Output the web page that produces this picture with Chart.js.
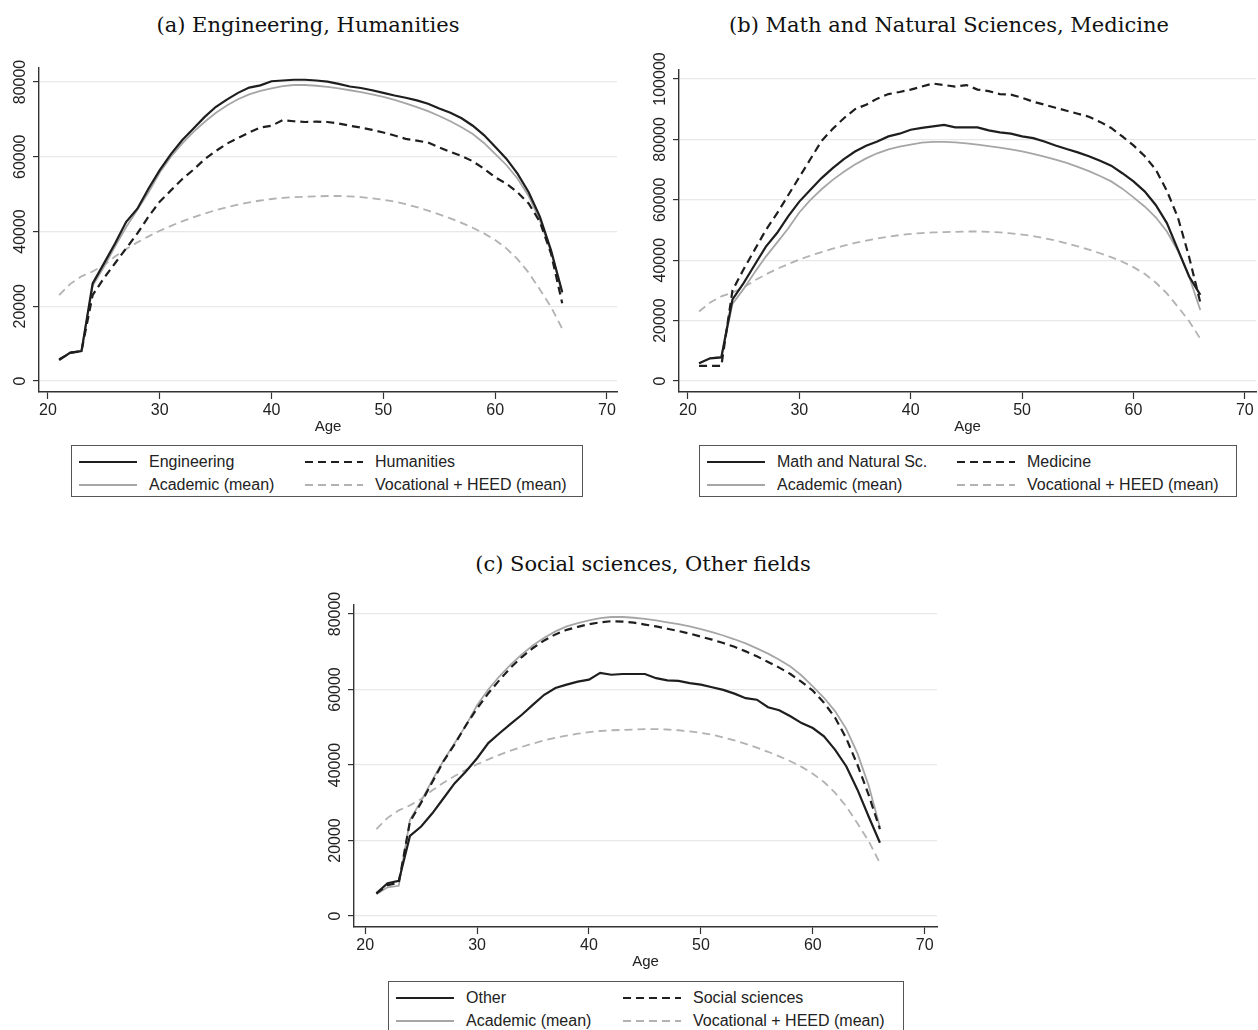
<!DOCTYPE html>
<html>
<head>
<meta charset="utf-8">
<title>Earnings profiles by field</title>
<script src="https://cdn.jsdelivr.net/npm/chart.js@4.4.1/dist/chart.umd.min.js"></script>
<style>
body { margin: 0; background: #fff; }
#page { position: relative; width: 1258px; height: 1030px; overflow: hidden; }
.panel { position: absolute; }
.ptitle { position: absolute; text-align: center; font-family: "DejaVu Serif", serif; font-size: 21px; line-height: 24px; color: #111; white-space: nowrap; }
.legend { position: absolute; border: 1px solid #555; box-sizing: border-box; font-family: "Liberation Sans", Arial, sans-serif; font-size: 16px; color: #222; }
.legend .item { position: absolute; display: flex; align-items: center; height: 20px; white-space: nowrap; }
.legend svg { margin-right: 12px; }
</style>
</head>
<body>
<div id="page">
  <div class="ptitle" style="left:0;top:13px;width:616px">(a) Engineering, Humanities</div>
  <div class="ptitle" style="left:640px;top:13px;width:618px">(b) Math and Natural Sciences, Medicine</div>
  <div class="ptitle" style="left:300px;top:552px;width:686px">(c) Social sciences, Other fields</div>

  <div class="panel" style="left:0;top:40px;width:620px;height:400px"><canvas id="chartA"></canvas></div>
  <div class="panel" style="left:640px;top:40px;width:618px;height:400px"><canvas id="chartB"></canvas></div>
  <div class="panel" style="left:300px;top:560px;width:650px;height:415px"><canvas id="chartC"></canvas></div>

  <div class="legend" id="legendA" style="left:71px;top:445px;width:512px;height:52px"></div>
  <div class="legend" id="legendB" style="left:699px;top:445px;width:538px;height:52px"></div>
  <div class="legend" id="legendC" style="left:388px;top:981px;width:516px;height:60px"></div>
</div>

<script>
// ages on the x axis
const ages = [21,22,23,24,25,26,27,28,29,30,31,32,33,34,35,36,37,38,39,40,
  41,42,43,44,45,46,47,48,49,50,51,52,53,54,55,56,57,58,59,60,61,62,63,64,65,66];

const engineering = [5600,7600,8000,26100,31400,36800,42600,46100,51500,56400,
  60700,64400,67500,70600,73300,75300,77100,78500,79100,80200,
  80400,80600,80600,80400,80100,79500,78800,78400,77800,77100,
  76400,75800,75100,74200,72900,71800,70300,68300,65800,62700,
  59500,55500,50500,44000,35000,23800];

const humanities = [5800,7500,8000,23000,27500,31500,35500,39500,44000,48000,
  51000,54000,56500,59300,61500,63500,65000,66500,67800,68300,
  69800,69500,69300,69400,69300,68900,68300,67800,67200,66500,
  65700,64800,64300,63800,62500,61300,60200,58800,56800,54500,
  52800,50500,47500,42600,34100,20800];

const mathNat = [5900,7500,7800,27000,32400,38500,44500,49000,54500,59400,
  63300,67200,70500,73500,76000,77900,79300,81000,81900,83200,
  83800,84300,84800,84000,84000,84000,83000,82300,81900,81000,
  80400,79300,78000,76800,75700,74400,72900,71300,68800,66100,
  62800,58300,52300,43400,34600,28500];

const medicine = [5000,5000,5000,30000,37000,43500,50000,55500,61500,67500,
  73500,79500,83500,87000,90000,91500,93500,95000,95700,96500,
  97500,98500,98000,97500,98000,96500,96000,95000,94800,93800,
  92500,91500,90500,89500,88500,87500,85800,83800,81000,78000,
  74500,70000,63000,54000,41000,26000];

const other = [6000,8700,9300,21200,23700,27200,31200,35200,38300,41800,
  45800,48400,50900,53300,56000,58600,60400,61300,62100,62600,
  64400,63900,64100,64100,64100,63000,62400,62300,61700,61300,
  60600,59900,58900,57700,57300,55300,54500,52900,51100,49800,
  47600,44000,39600,33400,26300,19400];

const social = [6000,8200,8800,25000,30000,35500,41000,45500,50500,55000,
  59000,62500,65800,68600,71000,73000,74600,75800,76600,77300,
  77800,78100,78000,77700,77200,76700,76100,75500,74800,74000,
  73200,72300,71300,70100,68800,67300,65800,64100,62000,59700,
  56500,52500,47000,40000,32000,23000];

const academic = [5800,7600,8000,25500,30500,36000,41200,45800,50500,55800,
  60000,63500,66600,69300,71700,73700,75400,76700,77600,78300,
  78900,79200,79200,79000,78700,78300,77800,77300,76700,76000,
  75200,74300,73300,72200,70900,69500,67900,66100,63700,60800,
  57800,54200,49500,43000,34500,23500];

const vocational = [23000,26000,28000,29300,31000,33300,35300,37100,38700,40200,
  41500,42700,43800,44800,45700,46500,47200,47800,48300,48700,
  49000,49200,49300,49400,49500,49500,49400,49200,48900,48500,
  48000,47300,46500,45600,44600,43500,42300,41000,39500,37700,
  35500,32600,29000,24500,19800,14000];

const xTicks = [20, 30, 40, 50, 60, 70];
const yTicks80 = [0, 20000, 40000, 60000, 80000];
const yTicks100 = [0, 20000, 40000, 60000, 80000, 100000];

const styles = {
  solid:  { borderColor: '#1e1e1e', borderWidth: 2.2, borderDash: [] },
  dashed: { borderColor: '#1e1e1e', borderWidth: 2.2, borderDash: [8, 5] },
  acad:   { borderColor: '#a6a6a6', borderWidth: 1.8, borderDash: [] },
  voc:    { borderColor: '#b2b2b2', borderWidth: 1.8, borderDash: [8, 5] }
};

const sansFont = '"Liberation Sans", Arial, sans-serif';

// rotated y tick labels, Stata style
const rotatedYLabels = {
  id: 'rotatedYLabels',
  afterDraw(chart) {
    const s = chart.scales.y;
    const ctx = chart.ctx;
    ctx.save();
    ctx.font = '16px ' + sansFont;
    ctx.fillStyle = '#222';
    ctx.textAlign = 'center';
    ctx.textBaseline = 'middle';
    s.ticks.forEach(t => {
      ctx.save();
      ctx.translate(s.right - 18, s.getPixelForValue(t.value));
      ctx.rotate(-Math.PI / 2);
      ctx.fillText(t.label, 0, 0);
      ctx.restore();
    });
    ctx.restore();
  }
};

function series(label, values, style) {
  return Object.assign({
    label: label,
    data: ages.map((a, i) => ({ x: a, y: values[i] })),
    pointRadius: 0,
    fill: false,
    tension: 0
  }, style);
}

function makeChart(id, datasets, yTicks, opt) {
  return new Chart(id, {
    type: 'line',
    data: { datasets: datasets },
    options: {
      responsive: true,
      maintainAspectRatio: false,
      animation: false,
      layout: { padding: { top: opt.padTop, right: opt.padRight, left: 0, bottom: 0 } },
      plugins: { legend: { display: false }, tooltip: { enabled: false } },
      scales: {
        x: {
          type: 'linear',
          min: opt.xMin, max: opt.xMax,
          afterBuildTicks: s => { s.ticks = xTicks.map(v => ({ value: v })); },
          afterFit: s => { s.height = 48; },
          grid: { display: true, drawOnChartArea: false, drawTicks: true, tickLength: 7, tickColor: '#333', tickWidth: 1.2 },
          border: { display: true, color: '#333', width: 1.4 },
          ticks: { color: '#222', padding: 2, font: { family: sansFont, size: 16 }, callback: v => String(v) },
          title: { display: true, text: 'Age', color: '#222', padding: { top: 0, bottom: 4 }, font: { family: sansFont, size: 15 } }
        },
        y: {
          min: opt.yMin, max: opt.yMax,
          afterBuildTicks: s => { s.ticks = yTicks.map(v => ({ value: v })); },
          afterFit: s => { s.width = opt.yWidth; },
          grid: { display: true, color: '#e8e8e8', lineWidth: 1.2, drawTicks: true, tickLength: 6, tickColor: '#333', tickWidth: 1.2 },
          border: { display: true, color: '#333', width: 1.4 },
          ticks: { display: false, callback: v => String(v) }
        }
      }
    },
    plugins: [rotatedYLabels]
  });
}

function makeLegend(id, datasets, col2) {
  const box = document.getElementById(id);
  datasets.forEach((d, i) => {
    const item = document.createElement('div');
    item.className = 'item';
    item.style.left = (i % 2 === 0 ? 7 : col2) + 'px';
    item.style.top = (i < 2 ? 6 : 29) + 'px';
    const dash = d.borderDash.length ? d.borderDash.join(' ') : 'none';
    item.innerHTML = '<svg width="58" height="6"><line x1="0" y1="3" x2="58" y2="3" stroke="' + d.borderColor +
      '" stroke-width="' + d.borderWidth + '" stroke-dasharray="' + dash + '"/></svg><span>' + d.label + '</span>';
    box.appendChild(item);
  });
}

const dsA = [
  series('Engineering', engineering, styles.solid),
  series('Humanities', humanities, styles.dashed),
  series('Academic (mean)', academic, styles.acad),
  series('Vocational + HEED (mean)', vocational, styles.voc)
];
const dsB = [
  series('Math and Natural Sc.', mathNat, styles.solid),
  series('Medicine', medicine, styles.dashed),
  series('Academic (mean)', academic, styles.acad),
  series('Vocational + HEED (mean)', vocational, styles.voc)
];
const dsC = [
  series('Other', other, styles.solid),
  series('Social sciences', social, styles.dashed),
  series('Academic (mean)', academic, styles.acad),
  series('Vocational + HEED (mean)', vocational, styles.voc)
];

makeChart('chartA', dsA, yTicks80, { padTop: 28, padRight: 3, yWidth: 39, xMin: 19.2, xMax: 70.9, yMin: -2940, yMax: 83750 });
makeChart('chartB', dsB, yTicks100, { padTop: 30, padRight: 2, yWidth: 39, xMin: 19.2, xMax: 71.0, yMin: -3640, yMax: 102980 });
makeChart('chartC', dsC, yTicks80, { padTop: 45, padRight: 13, yWidth: 54, xMin: 19.0, xMax: 71.1, yMin: -2910, yMax: 82380 });

makeLegend('legendA', dsA, 233);
makeLegend('legendB', dsB, 257);
makeLegend('legendC', dsC, 234);
</script>
</body>
</html>
